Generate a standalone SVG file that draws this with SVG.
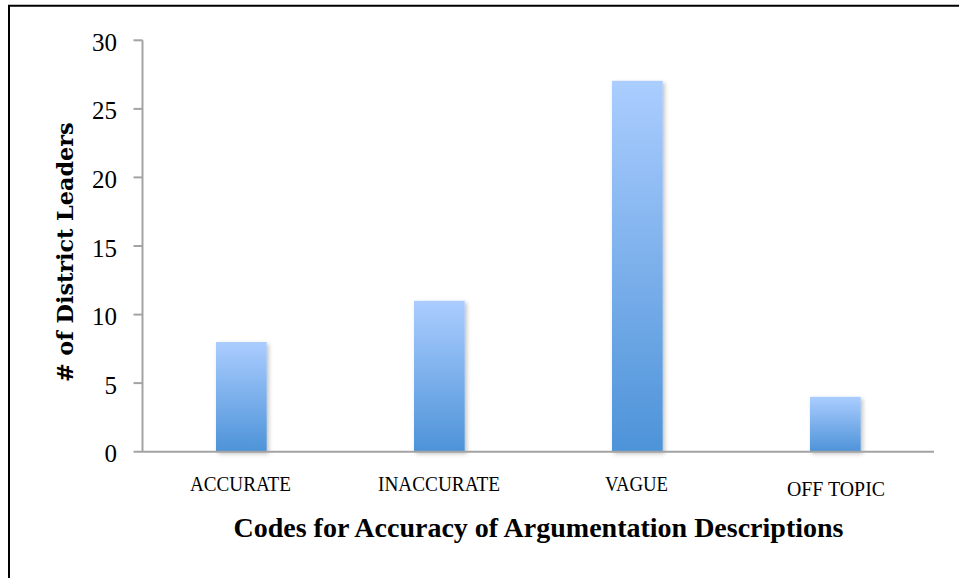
<svg xmlns="http://www.w3.org/2000/svg" width="959" height="578" viewBox="0 0 959 578">
  <style>
    .axis { stroke: #a3a3a3; stroke-width: 2; fill: none; }
    .tick { font-family: "Liberation Serif", serif; font-size: 25px; fill: #000; text-anchor: end; }
    .cat { font-family: "Liberation Serif", serif; font-size: 20px; fill: #000; text-anchor: middle; }
    .title { font-family: "Liberation Serif", serif; font-weight: bold; font-size: 28px; fill: #000; text-anchor: middle; }
    .ylabel { font-family: "DejaVu Serif", serif; font-weight: bold; font-size: 22.3px; fill: #000; text-anchor: middle; }
    .bar { fill: url(#barGrad); filter: url(#shadow); }
  </style>
  <defs>
    <linearGradient id="barGrad" x1="0" y1="0" x2="0" y2="1">
      <stop offset="0" stop-color="#abcdff"/>
      <stop offset="1" stop-color="#4d93d8"/>
    </linearGradient>
    <filter id="shadow" x="-20%" y="-10%" width="150%" height="130%">
      <feDropShadow dx="2" dy="2" stdDeviation="2" flood-color="#000" flood-opacity="0.25"/>
    </filter>
  </defs>
  <rect x="0" y="0" width="959" height="578" fill="#fff"/>
  <g id="frame">
    <line x1="8" y1="5.7" x2="959" y2="5.7" stroke="#000" stroke-width="2"/>
    <line x1="9" y1="5" x2="9" y2="578" stroke="#000" stroke-width="2"/>
  </g>
  <g id="bars">
    <rect id="bar-accurate" class="bar" x="216" y="342" width="50.7" height="109.7"/>
    <rect id="bar-inaccurate" class="bar" x="414" y="300.8" width="50.7" height="150.9"/>
    <rect id="bar-vague" class="bar" x="612" y="80.8" width="50.7" height="370.9"/>
    <rect id="bar-offtopic" class="bar" x="810" y="396.8" width="50.7" height="54.9"/>
  </g>
  <g id="axes">
    <line class="axis" x1="142.5" y1="40.3" x2="142.5" y2="451.7"/>
    <line class="axis" x1="133.5" y1="451.7" x2="934" y2="451.7"/>
    <line class="axis" x1="133.5" y1="40.3" x2="142.5" y2="40.3"/>
    <line class="axis" x1="133.5" y1="108.9" x2="142.5" y2="108.9"/>
    <line class="axis" x1="133.5" y1="177.4" x2="142.5" y2="177.4"/>
    <line class="axis" x1="133.5" y1="246" x2="142.5" y2="246"/>
    <line class="axis" x1="133.5" y1="314.6" x2="142.5" y2="314.6"/>
    <line class="axis" x1="133.5" y1="383.1" x2="142.5" y2="383.1"/>
  </g>
  <g id="y-ticks">
    <text class="tick" x="117" y="50.8">30</text>
    <text class="tick" x="117" y="119.4">25</text>
    <text class="tick" x="117" y="187.9">20</text>
    <text class="tick" x="117" y="256.5">15</text>
    <text class="tick" x="117" y="325.1">10</text>
    <text class="tick" x="117" y="393.6">5</text>
    <text class="tick" x="117" y="462.2">0</text>
  </g>
  <g id="categories">
    <text class="cat" x="240.5" y="491" textLength="101" lengthAdjust="spacingAndGlyphs">ACCURATE</text>
    <text class="cat" x="439" y="491" textLength="122" lengthAdjust="spacingAndGlyphs">INACCURATE</text>
    <text class="cat" x="636.5" y="491" textLength="63" lengthAdjust="spacingAndGlyphs">VAGUE</text>
    <text class="cat" x="836" y="496" textLength="98" lengthAdjust="spacingAndGlyphs">OFF TOPIC</text>
  </g>
  <g id="titles">
    <text class="title" x="538.5" y="537">Codes for Accuracy of Argumentation Descriptions</text>
    <text class="ylabel" transform="translate(72.5,252.3) rotate(-90)"># of District Leaders</text>
  </g>
</svg>
